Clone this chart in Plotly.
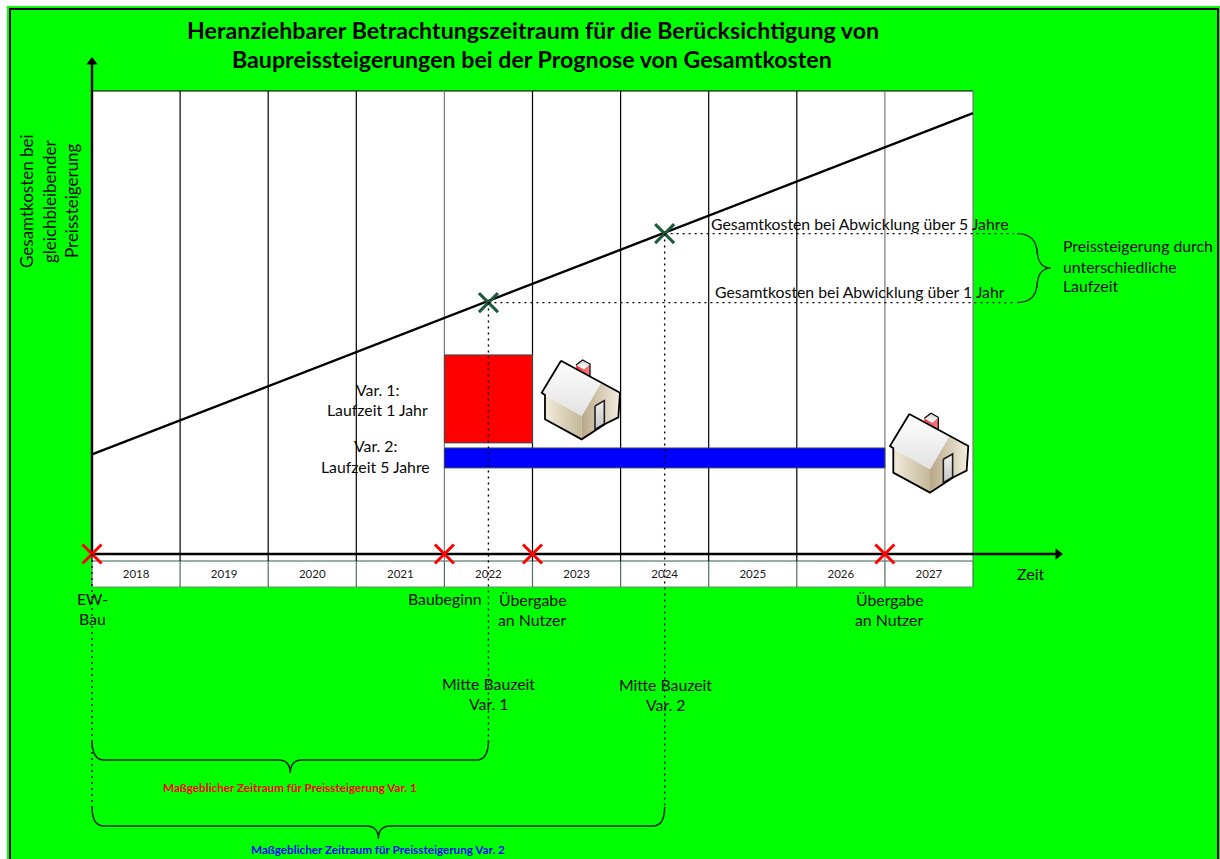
import plotly.graph_objects as go

WIDTH, HEIGHT = 1220, 859
FONT = "Lato, 'Open Sans', sans-serif"

# Timeline
years = list(range(2018, 2028))
year_edges = list(range(2018, 2029))
grey_edges = [2022, 2027, 2028]

# Cost line (index of total cost over time)
cost_years = [2018, 2028]
cost_values = [21.5, 95.2]

# Project variants: start, duration, height band
var_names = ["Var. 1", "Var. 2"]
var_starts = [2022, 2022]
var_durations = [1, 5]
var_centers = [33.5, 20.75]
var_heights = [19.0, 4.3]
var_colors = ["#ff0000", "#0000ff"]

# Milestones on the time axis
milestone_years = [2018, 2022, 2023, 2027]
# Middle of the construction period and the cost reached there
mid_years = [2022.5, 2024.5]
mid_costs = [54.3, 69.2]


def px_x(p):
    return 2018 + (p - 92) / 88.1


def px_y(p):
    return (554 - p) / 4.63


X_RANGE = [px_x(0), px_x(WIDTH)]
Y_RANGE = [px_y(HEIGHT), px_y(0)]
fig = go.Figure()
shapes = []
notes = []


def rect(x0, y0, x1, y1, fill, line="rgba(0,0,0,0)", width=0):
    shapes.append(dict(type="rect", layer="below", xref="x", yref="y",
                       x0=px_x(x0), x1=px_x(x1), y0=px_y(y0), y1=px_y(y1),
                       fillcolor=fill, line=dict(color=line, width=width)))


def seg(x0, y0, x1, y1, color="black", width=1.0, dash="solid", layer="below"):
    shapes.append(dict(type="line", layer=layer, xref="x", yref="y",
                       x0=x0, x1=x1, y0=y0, y1=y1,
                       line=dict(color=color, width=width, dash=dash)))


def text(s, px, py, size=15.8, color="#0a0a0a", bold=False, angle=0, anchor="center"):
    if bold:
        s = f"<b>{s}</b>"
    # Lato sits a little low in its line box, so horizontal text is nudged up
    lift = 1.5 if angle == 0 else 0
    notes.append(dict(text=s, xref="x", yref="y", x=px_x(px), y=px_y(py - lift),
                      showarrow=False, xanchor=anchor, yanchor="middle", textangle=angle,
                      font=dict(family=FONT, size=size, color=color)))


def brace_down(x0, x1, top, mid, tip, r=12):
    """Curly brace opening upwards, with its point below the centre."""
    c = (x0 + x1) / 2
    rx = r / 88.1
    path = (f"M {x0} {top} Q {x0} {mid} {x0 + rx} {mid} L {c - rx} {mid} "
            f"Q {c} {mid} {c} {tip} Q {c} {mid} {c + rx} {mid} L {x1 - rx} {mid} "
            f"Q {x1} {mid} {x1} {top}")
    shapes.append(dict(type="path", layer="above", xref="x", yref="y", path=path,
                       line=dict(color="#142814", width=1.5)))


def brace_right(x0, mid, tip, top, bottom):
    ry = 20 / 4.63
    c = (top + bottom) / 2
    path = (f"M {x0} {top} Q {mid} {top} {mid} {top - ry} L {mid} {c + ry} "
            f"Q {mid} {c} {tip} {c} Q {mid} {c} {mid} {c - ry} L {mid} {bottom + ry} "
            f"Q {mid} {bottom} {x0} {bottom}")
    shapes.append(dict(type="path", layer="above", xref="x", yref="y", path=path,
                       line=dict(color="#142814", width=1.3)))


# Page background and frame
rect(7, 6, 1225, 864, "#00ff00")
rect(10, 9, 1218, 870, "rgba(0,0,0,0)", "black", 2)

# White chart panel with the year band underneath
rect(92, 91, 973, 587, "white")
seg(px_x(92), px_y(91), px_x(973), px_y(91))
seg(px_x(92), px_y(561), px_x(973), px_y(561), color="#2f5f4a")
seg(px_x(92), px_y(587), px_x(973), px_y(587), color="#6a8a7a")
for y in year_edges:
    colour = "#7a7a7a" if y in grey_edges else "black"
    seg(y, px_y(91), y, px_y(561), color=colour, width=1.2)
    seg(y, px_y(561), y, px_y(587), color="#4f6f60", width=1.2)

# Variant bars
fig.add_trace(go.Bar(
    y=var_centers, x=var_durations, base=var_starts, width=var_heights,
    orientation="h", marker=dict(color=var_colors, line=dict(color="#3a4a4a", width=1)),
    name="Laufzeit", showlegend=False, hoverinfo="skip",
))

# Dotted guide lines from the cost line
DOT = "2px,4px"
for yr, cost in zip(mid_years, mid_costs):
    seg(yr, cost, px_x(1014), cost, width=1.4, dash=DOT, layer="above")
seg(mid_years[0], mid_costs[0], mid_years[0], px_y(742), width=1.4, dash=DOT, layer="above")
seg(mid_years[1], mid_costs[1], mid_years[1], px_y(808), width=1.4, dash=DOT, layer="above")
seg(2018, 0, 2018, px_y(808), width=1.4, dash=DOT, layer="above")

# Cost line
fig.add_trace(go.Scatter(x=cost_years, y=cost_values, mode="lines",
                         line=dict(color="black", width=2.4), hoverinfo="skip", showlegend=False))

# Axis lines with arrow heads
fig.add_trace(go.Scatter(x=[2018, px_x(1058)], y=[0, 0], mode="lines",
                         line=dict(color="black", width=2.4), hoverinfo="skip", showlegend=False))
fig.add_trace(go.Scatter(x=[2018, 2018], y=[0, px_y(64)], mode="lines",
                         line=dict(color="black", width=2.4), hoverinfo="skip", showlegend=False))
fig.add_trace(go.Scatter(x=[px_x(1058)], y=[0], mode="markers", hoverinfo="skip", showlegend=False,
                         marker=dict(symbol="triangle-right", size=10, color="black")))
fig.add_trace(go.Scatter(x=[2018], y=[px_y(62)], mode="markers", hoverinfo="skip", showlegend=False,
                         marker=dict(symbol="triangle-up", size=10, color="black")))

# Milestones and mid-construction markers
fig.add_trace(go.Scatter(x=milestone_years, y=[0] * len(milestone_years), mode="markers",
                         hoverinfo="skip", showlegend=False,
                         marker=dict(symbol="x-thin", size=19, line=dict(color="#ff0000", width=3))))
fig.add_trace(go.Scatter(x=mid_years, y=mid_costs, mode="markers",
                         hoverinfo="skip", showlegend=False,
                         marker=dict(symbol="x-thin", size=19, line=dict(color="#1e5a3c", width=3))))

# Braces
brace_down(2018, mid_years[0], px_y(740), px_y(760), px_y(773))
brace_down(2018, mid_years[1], px_y(807), px_y(826), px_y(839))
brace_right(px_x(1017), px_x(1037), px_x(1051), mid_costs[1], mid_costs[0])

# House icon, outline in local pixels (three times the drawn size)
roof = [(393, 62), (512, 130), (455, 228), (335, 158)]
left_wall = [(345, 165), (455, 228), (455, 298), (345, 238)]
side_wall = [(455, 228), (512, 130), (568, 160), (565, 232), (455, 298)]
door = [(495, 198), (523, 182), (523, 252), (495, 268)]
chimney_body = [(438, 75), (462, 88), (480, 72), (480, 108), (438, 84)]
chimney_cap = [(458, 60), (480, 72), (462, 88), (438, 75)]
silhouette = [(393, 62), (570, 158), (565, 232), (525, 252), (525, 252),
              (455, 298), (345, 238), (345, 165), (335, 158), (393, 62)]
chimney_outline = [(438, 75), (458, 60), (480, 72), (480, 108)]


def house(ox, oy):
    def to_xy(pts):
        return ([px_x(ox + p[0] / 3) for p in pts], [px_y(oy + p[1] / 3) for p in pts])

    parts = [
        (chimney_body, ["#ff3040", "#f58080"], "horizontal"),
        (chimney_cap, ["#ffffff", "#d4d4d4"], "vertical"),
        (left_wall, ["#f3ecdc", "#c4b898"], "horizontal"),
        (side_wall, ["#b8a888", "#f3ecdf"], "horizontal"),
        (roof, ["#e2e2e2", "#ffffff"], "vertical"),
    ]
    for pts, grad, kind in parts:
        xs, ys = to_xy(pts + pts[:1])
        fig.add_trace(go.Scatter(
            x=xs, y=ys, mode="lines", fill="toself", hoverinfo="skip", showlegend=False,
            line=dict(color="rgba(0,0,0,0)", width=0),
            fillgradient=dict(type=kind, colorscale=[[0, grad[0]], [1, grad[1]]]),
        ))
    # Door on top of the gable wall
    xs, ys = to_xy(door + door[:1])
    fig.add_trace(go.Scatter(
        x=xs, y=ys, mode="lines", fill="toself", hoverinfo="skip", showlegend=False,
        line=dict(color="#202020", width=1.6),
        fillgradient=dict(type="vertical", colorscale=[[0, "#c4c4c4"], [1, "#f0f0f0"]]),
    ))
    for outline, w in [(silhouette, 1.8), (chimney_outline, 1.2)]:
        xs, ys = to_xy(outline)
        fig.add_trace(go.Scatter(x=xs, y=ys, mode="lines", hoverinfo="skip", showlegend=False,
                                 line=dict(color="black", width=w)))


house(430, 340)
house(778.3, 393.3)

# Title
text("Heranziehbarer Betrachtungszeitraum für die Berücksichtigung von", 533, 31, size=23.2, bold=True, color="black")
text("Baupreissteigerungen bei der Prognose von Gesamtkosten", 532, 60, size=23.2, bold=True, color="black")

# Axis caption
for label, x in zip(["Gesamtkosten bei", "gleichbleibender", "Preissteigerung"], [26, 49, 71]):
    text(label, x, 201, size=17, angle=-90)

# Variant captions
text("Var. 1:", 377, 391)
text("Laufzeit 1 Jahr", 377, 411)
text("Var. 2:", 375, 447)
text("Laufzeit 5 Jahre", 375, 468)

# Cost captions
text("Gesamtkosten bei Abwicklung über 5 Jahre", 860, 225)
text("Gesamtkosten bei Abwicklung über 1 Jahr", 860, 293)
text("Preissteigerung durch", 1061, 247, anchor="left")
text("unterschiedliche", 1061, 268, anchor="left")
text("Laufzeit", 1061, 287, anchor="left")

# Milestone captions
text("Zeit", 1031, 575, size=16)
text("EW-", 92, 600)
text("Bau", 92, 620)
text("Baubeginn", 445, 600)
text("Übergabe", 532, 601)
text("an Nutzer", 532, 621)
text("Übergabe", 889, 601)
text("an Nutzer", 889, 621)
text("Mitte Bauzeit", 488, 685)
text("Var. 1", 488, 705)
text("Mitte Bauzeit", 665, 686)
text("Var. 2", 665, 706)
text("Maßgeblicher Zeitraum für Preissteigerung Var. 1", 290, 788, size=11.7, color="#ff0000", bold=True)
text("Maßgeblicher Zeitraum für Preissteigerung Var. 2", 378, 850, size=11.7, color="#0000ff", bold=True)

fig.update_layout(
    width=WIDTH, height=HEIGHT, autosize=False,
    margin=dict(l=0, r=0, t=0, b=0),
    paper_bgcolor="white", plot_bgcolor="rgba(0,0,0,0)",
    showlegend=False, barmode="overlay",
    shapes=shapes, annotations=notes,
    xaxis=dict(range=X_RANGE, showgrid=False, zeroline=False, showline=False, ticks="",
               tickmode="array", tickvals=[y + 0.5 for y in years], ticktext=[str(y) for y in years],
               tickfont=dict(family=FONT, size=11.5, color="#202020"),
               anchor="free", position=(HEIGHT - 565) / HEIGHT, fixedrange=True),
    yaxis=dict(range=Y_RANGE, showgrid=False, zeroline=False, showline=False,
               showticklabels=False, ticks="", fixedrange=True),
)

fig.write_html("out.html")
